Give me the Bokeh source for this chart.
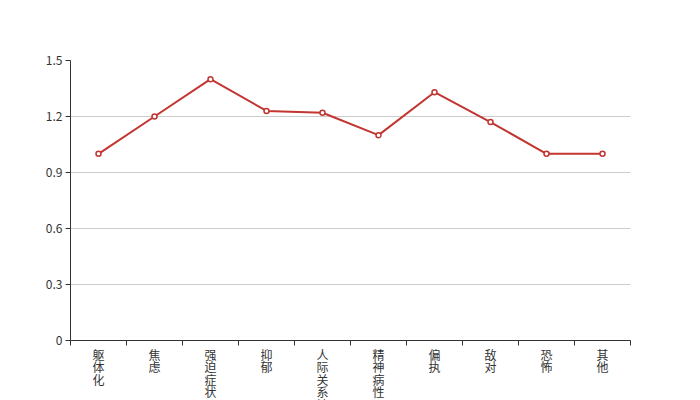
from bokeh.plotting import figure
from bokeh.models import Range1d, FixedTicker
from bokeh.embed import file_html
from bokeh.resources import INLINE

categories = ["躯体化", "焦虑", "强迫症状", "抑郁", "人际关系敏感", "精神病性", "偏执", "敌对", "恐怖", "其他"]
values = [1.0, 1.2, 1.4, 1.23, 1.22, 1.1, 1.33, 1.17, 1.0, 1.0]
y_ticks = [0, 0.3, 0.6, 0.9, 1.2, 1.5]

n = len(categories)
xs = [i + 0.5 for i in range(n)]

p = figure(width=700, height=400, output_backend="svg", toolbar_location=None,
           x_range=Range1d(0, n), y_range=Range1d(0, 1.5),
           frame_width=560, frame_height=280,
           min_border_left=70, min_border_right=70, min_border_top=60, min_border_bottom=60)
p.outline_line_color = None
p.background_fill_color = "white"
p.border_fill_color = "white"

p.line(xs, values, line_color="#c23531", line_width=2)
p.scatter(xs, values, size=5, marker="circle", fill_color="white", line_color="#c23531", line_width=1.5)

font = "Noto Sans CJK SC"
# x axis
xa = p.xaxis[0]
xa.ticker = FixedTicker(ticks=xs, minor_ticks=list(range(n + 1)))
xa.major_label_overrides = {x: "\n".join(c) for x, c in zip(xs, categories)}
xa.major_tick_out = 0
xa.major_tick_in = 0
xa.minor_tick_out = 5
xa.minor_tick_in = 0
xa.minor_tick_line_color = "#333333"
xa.axis_line_color = "#333333"
xa.major_label_text_font = font
xa.major_label_text_font_size = "12px"
xa.major_label_text_color = "#333333"
xa.major_label_text_line_height = 0.74
xa.major_label_standoff = 0

# y axis
ya = p.yaxis[0]
ya.ticker = FixedTicker(ticks=y_ticks)
ya.major_label_overrides = {0: "0"}
ya.major_tick_out = 5
ya.major_tick_in = 0
ya.minor_tick_line_color = None
ya.axis_line_color = "#333333"
ya.major_tick_line_color = "#333333"
ya.major_label_text_font = font
ya.major_label_text_font_size = "12px"
ya.major_label_text_color = "#333333"
ya.major_label_standoff = 3

p.xgrid.grid_line_color = None
p.ygrid.ticker = FixedTicker(ticks=y_ticks[1:])
p.ygrid.grid_line_color = "#cccccc"

open("out.html", "w").write(file_html(p, INLINE))
